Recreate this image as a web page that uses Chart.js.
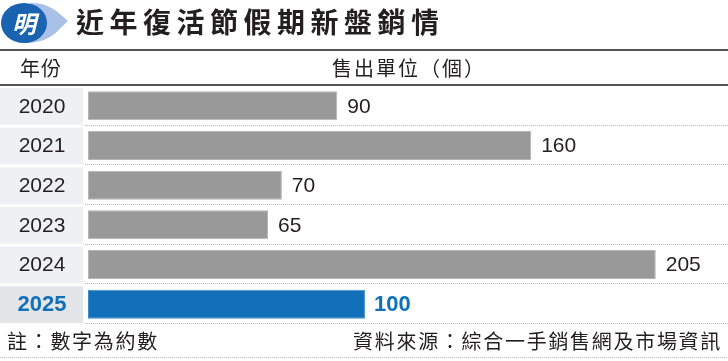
<!DOCTYPE html>
<html>
<head>
<meta charset="utf-8">
<script src="https://cdn.jsdelivr.net/npm/chart.js@4"></script>
<style>
html,body{margin:0;padding:0;background:#fff;}
#wrap{width:728px;height:361px;position:relative;}
</style>
</head>
<body>
<div id="wrap"><canvas id="c" width="728" height="361"></canvas></div>
<script>
const title = '近年復活節假期新盤銷情';
const headerLeft = '年份';
const headerRight = '售出單位（個）';
const years = ['2020', '2021', '2022', '2023', '2024', '2025'];
const units = [90, 160, 70, 65, 205, 100];
const noteText = '註：數字為約數';
const sourceText = '資料來源：綜合一手銷售網及市場資訊';

const GRAY = '#999999';
const BLUE = '#1170b9';
const CJK = '"Noto Sans CJK TC", "Noto Sans CJK SC", sans-serif';
const LAT = '"Liberation Sans", Arial, sans-serif';

function dotted(ctx, x1, x2, y) {
  ctx.save();
  ctx.strokeStyle = '#b4b4b4';
  ctx.lineWidth = 1;
  ctx.setLineDash([1, 1]);
  ctx.beginPath();
  ctx.moveTo(x1, y + 0.5);
  ctx.lineTo(x2, y + 0.5);
  ctx.stroke();
  ctx.restore();
}

const decor = {
  id: 'decor',
  beforeDatasetsDraw(chart) {
    const ctx = chart.ctx;
    const y = chart.scales.y;
    const W = chart.width;
    ctx.save();
    // logo
    ctx.fillStyle = '#a9c1e6';
    ctx.beginPath();
    ctx.moveTo(30, 3);
    ctx.bezierCurveTo(48, 2, 58, 12, 68, 21);
    ctx.bezierCurveTo(58, 30, 50, 43, 26, 43);
    ctx.closePath();
    ctx.fill();
    ctx.fillStyle = '#1a63b0';
    ctx.beginPath();
    ctx.ellipse(24, 23, 23, 20, 0, 0, Math.PI * 2);
    ctx.fill();
    ctx.fillStyle = '#ffffff';
    ctx.font = 'italic bold 24px ' + CJK;
    ctx.textAlign = 'center';
    ctx.textBaseline = 'middle';
    ctx.fillText('明', 24, 24);
    // title
    ctx.fillStyle = '#231f20';
    ctx.font = 'bold 28px ' + CJK;
    ctx.textAlign = 'left';
    ctx.letterSpacing = '5.5px';
    ctx.fillText(title, 76, 22);
    ctx.letterSpacing = '0px';
    // lines
    ctx.fillStyle = '#555555';
    ctx.fillRect(0, 49, W, 2);
    ctx.fillRect(0, 84, W, 2);
    // header
    ctx.fillStyle = '#231f20';
    ctx.font = '20px ' + CJK;
    ctx.textAlign = 'left';
    ctx.letterSpacing = '1px';
    ctx.fillText(headerLeft, 20, 68);
    ctx.letterSpacing = '2px';
    ctx.fillText(headerRight, 332, 68);
    ctx.letterSpacing = '0px';
    // rows
    const n = years.length;
    for (let i = 0; i < n; i++) {
      const c = y.getPixelForValue(i);
      const half = (y.getPixelForValue(1) - y.getPixelForValue(0)) / 2;
      const top = c - half, bot = c + half;
      ctx.fillStyle = i === n - 1 ? '#e3e5e8' : '#eef0f3';
      ctx.fillRect(0, top + 2, 83, bot - top - 3);
      dotted(ctx, 85, W, Math.round(bot) - 1);
      ctx.fillStyle = i === n - 1 ? BLUE : '#231f20';
      ctx.font = (i === n - 1 ? 'bold 22px ' : '21px ') + LAT;
      ctx.textAlign = 'center';
      ctx.textBaseline = 'middle';
      ctx.fillText(years[i], 42, c + 1);
    }
    // footer
    ctx.fillStyle = '#231f20';
    ctx.font = '20px ' + CJK;
    ctx.textBaseline = 'middle';
    ctx.textAlign = 'left';
    ctx.letterSpacing = '1.7px';
    ctx.fillText(noteText, 7, 341);
    ctx.textAlign = 'right';
    ctx.fillText(sourceText, 722, 341);
    ctx.letterSpacing = '0px';
    dotted(ctx, 0, W, 357);
    ctx.restore();
  },
  afterDatasetsDraw(chart) {
    const ctx = chart.ctx;
    const meta = chart.getDatasetMeta(0);
    ctx.save();
    meta.data.forEach((bar, i) => {
      const last = i === units.length - 1;
      ctx.fillStyle = last ? BLUE : '#231f20';
      ctx.font = (last ? 'bold 22px ' : '21px ') + LAT;
      ctx.textAlign = 'left';
      ctx.textBaseline = 'middle';
      ctx.fillText(String(units[i]), bar.x + (last ? 9 : 10), bar.y + 1);
    });
    ctx.restore();
  }
};

new Chart(document.getElementById('c'), {
  type: 'bar',
  data: {
    labels: years,
    datasets: [{
      data: units,
      backgroundColor: units.map((v, i) => i === units.length - 1 ? BLUE : GRAY),
      borderColor: units.map((v, i) => i === units.length - 1 ? '#3d8bcb' : '#b5b5b5'),
      borderWidth: 1,
      borderSkipped: false,
      barPercentage: 0.73,
      categoryPercentage: 1
    }]
  },
  options: {
    indexAxis: 'y',
    responsive: false,
    animation: false,
    layout: { padding: { left: 88, right: 3, top: 86, bottom: 37 } },
    plugins: { legend: { display: false }, tooltip: { enabled: false } },
    scales: {
      x: { display: false, min: 0, max: 230 },
      y: { display: false }
    }
  },
  plugins: [decor]
});
</script>
</body>
</html>
